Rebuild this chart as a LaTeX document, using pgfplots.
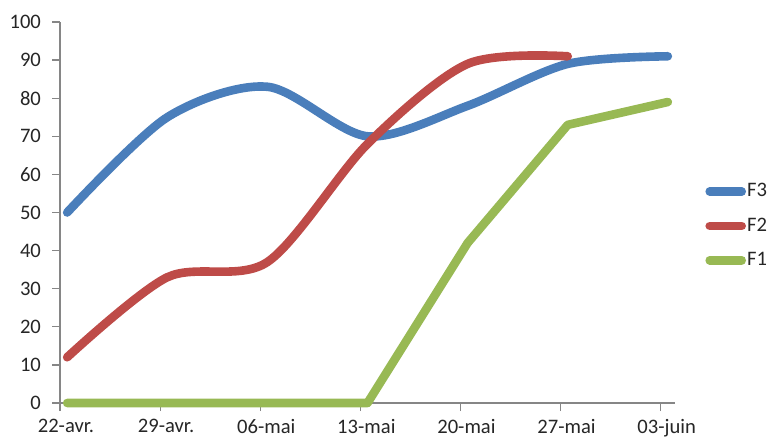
\documentclass[border=0pt]{standalone}
\usepackage{pgfplots}
\pgfplotsset{compat=1.18}
\usepackage{fontspec}
\setmainfont{Carlito}
\definecolor{xlblue}{HTML}{4A7EBB}
\definecolor{xlred}{HTML}{BE4B48}
\definecolor{xlgreen}{HTML}{98B954}
\definecolor{xlaxis}{HTML}{868686}
\begin{document}
\begin{tikzpicture}
\useasboundingbox (-30pt,-18pt) rectangle (354.5pt,201.5pt);
\begin{axis}[
scale only axis,
width=307.5pt, height=190.5pt,
xmin=0, xmax=43,
ymin=0, ymax=100,
axis x line=bottom, axis y line=left,
axis line style={-, xlaxis, line width=0.6pt},
tick style={xlaxis, line width=0.6pt},
tick align=outside,
major tick length=4pt,
xtick={0,7,14,21,28,35,42},
xticklabels={22-avr.,29-avr.,06-mai,13-mai,20-mai,27-mai,03-juin},
ytick={0,10,...,100},
ticklabel style={font=\fontsize{10.3}{12}\selectfont, text=black!85},
xticklabel style={xshift=3pt, yshift=-0.6pt},
yticklabel style={xshift=-2pt},
/pgf/number format/assume math mode=true,
clip=false,
every axis plot/.append style={line width=4.3pt, line cap=round, line join=round},
legend image code/.code={\draw[#1] (0pt,0pt) -- (16pt,0pt);},
legend style={draw=none, fill=none, at={(axis description cs:1.0488,0.465)}, anchor=west,
  font=\fontsize{10.3}{12}\selectfont, text=black!85, row sep=5pt, inner sep=0pt,
  nodes={inner xsep=0.6pt}},
legend cell align=left,
]
\addplot[xlblue, smooth] coordinates {
(0.5,50) (7.5,75) (14.5,83) (21.5,70) (28.5,78) (35.5,89) (42.5,91)
};
\addlegendentry{F3}
\addplot[xlred, smooth] coordinates {
(0.5,12) (7.5,33) (14.5,37) (21.5,68) (28.5,89) (35.5,91)
};
\addlegendentry{F2}
\addplot[xlgreen, sharp plot] coordinates {
(0.5,0) (7.5,0) (14.5,0) (21.5,0) (28.5,42) (35.5,73) (42.5,79)
};
\addlegendentry{F1}
\end{axis}
\end{tikzpicture}
\end{document}
